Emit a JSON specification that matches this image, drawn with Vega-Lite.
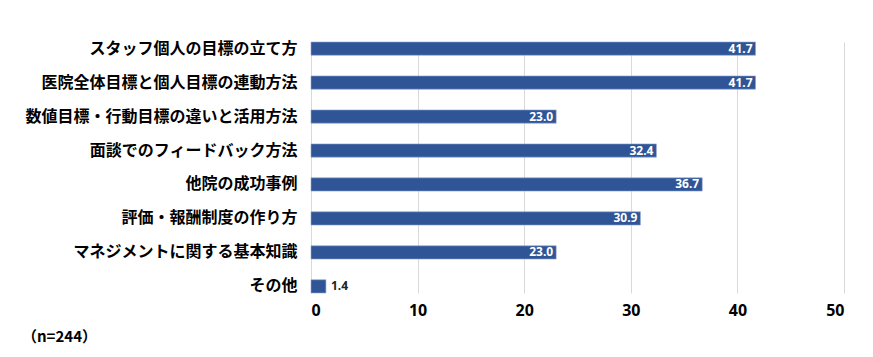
{
  "$schema": "https://vega.github.io/schema/vega-lite/v6.json",
  "autosize": "none",
  "width": 533,
  "height": 251,
  "padding": {"left": 311, "top": 42, "right": 29, "bottom": 64},
  "background": "white",
  "data": {
    "values": [
      {"item": "スタッフ個人の目標の立て方", "value": 41.7},
      {"item": "医院全体目標と個人目標の連動方法", "value": 41.7},
      {"item": "数値目標・行動目標の違いと活用方法", "value": 23.0},
      {"item": "面談でのフィードバック方法", "value": 32.4},
      {"item": "他院の成功事例", "value": 36.7},
      {"item": "評価・報酬制度の作り方", "value": 30.9},
      {"item": "マネジメントに関する基本知識", "value": 23.0},
      {"item": "その他", "value": 1.4}
    ]
  },
  "title": {
    "text": "（n=244）",
    "orient": "bottom",
    "anchor": "start",
    "frame": "group",
    "dx": -289,
    "offset": 12,
    "font": "Noto Sans CJK JP",
    "fontSize": 15,
    "fontWeight": "bold",
    "color": "#000000"
  },
  "encoding": {
    "y": {
      "field": "item",
      "type": "nominal",
      "sort": null,
      "scale": {"paddingInner": 0.61, "paddingOuter": 0},
      "axis": {
        "title": null,
        "domain": false,
        "ticks": false,
        "labelPadding": 14,
        "labelFont": "Noto Sans CJK JP",
        "labelFontSize": 16,
        "labelFontWeight": "bold",
        "labelColor": "#000000",
        "labelLimit": 400
      }
    },
    "x": {
      "field": "value",
      "type": "quantitative",
      "scale": {"domain": [0, 50]},
      "axis": {
        "title": null,
        "values": [0, 10, 20, 30, 40, 50],
        "domain": false,
        "ticks": false,
        "labelPadding": 9,
        "labelFont": "Noto Sans",
        "labelFontSize": 16,
        "labelFontWeight": "bold",
        "labelColor": "#000000",
        "gridColor": "#d9d9d9",
        "gridWidth": 1
      }
    }
  },
  "layer": [
    {
      "mark": {"type": "bar", "color": "#2F5597", "stroke": "#8EA6D3", "strokeWidth": 0.6}
    },
    {
      "transform": [{"filter": "datum.value > 5"}],
      "mark": {"type": "text", "align": "right", "baseline": "middle", "dx": -3, "font": "Noto Sans", "fontSize": 12, "fontWeight": "bold", "color": "#ffffff"},
      "encoding": {"text": {"field": "value", "type": "quantitative", "format": ".1f"}}
    },
    {
      "transform": [{"filter": "datum.value <= 5"}],
      "mark": {"type": "text", "align": "left", "baseline": "middle", "dx": 5, "font": "Noto Sans", "fontSize": 12, "fontWeight": "bold", "color": "#222222"},
      "encoding": {"text": {"field": "value", "type": "quantitative", "format": ".1f"}}
    }
  ],
  "config": {"view": {"stroke": null}}
}
